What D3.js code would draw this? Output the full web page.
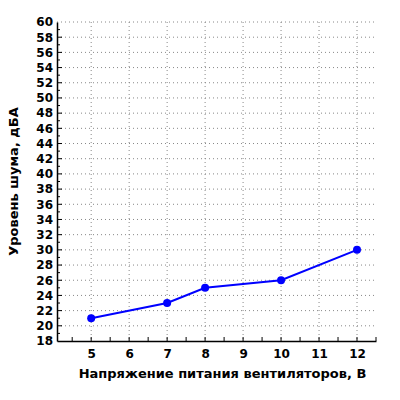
<!DOCTYPE html>
<html><head><meta charset="utf-8">
<script src="https://cdn.jsdelivr.net/npm/d3@7"></script>
<style>body{margin:0;background:#fff}text{font-family:"DejaVu Sans",sans-serif;font-weight:bold}</style>
</head><body>
<svg id="c" width="400" height="400"></svg>
<script>
const voltage = [5, 7, 8, 10, 12]
const noise = [21, 23, 25, 26, 30]
const xTicks = [5, 6, 7, 8, 9, 10, 11, 12]
const yTicks = d3.range(18, 61, 2)

const svg = d3.select('#c')
const m = {l: 57, r: 376, t: 22, b: 341}
const x = d3.scaleLinear().domain([4.1, 12.5]).range([m.l, m.r])
const y = d3.scaleLinear().domain([18, 60]).range([m.b, m.t])

// grid
const g = svg.append('g').attr('stroke', '#888').attr('stroke-dasharray', '1,3')
g.selectAll('.h').data(yTicks.slice(1)).enter().append('line')
  .attr('x1', m.l).attr('x2', m.r).attr('y1', d => y(d)).attr('y2', d => y(d))
g.selectAll('.v').data(xTicks).enter().append('line')
  .attr('x1', d => x(d)).attr('x2', d => x(d)).attr('y1', m.t).attr('y2', m.b)

// axes
const xa = svg.append('g').attr('transform', `translate(0,${m.b})`)
  .call(d3.axisBottom(x).tickValues(xTicks).tickFormat(d3.format('d')).tickSize(0).tickPadding(8))
xa.append('g').selectAll('line').data(d3.range(4.5, 12.6, 0.5)).enter().append('line')
  .attr('x1', d => x(d)).attr('x2', d => x(d)).attr('y1', 0).attr('y2', -4).attr('stroke', '#000')
const ya = svg.append('g').attr('transform', `translate(${m.l},0)`)
  .call(d3.axisLeft(y).tickValues(yTicks).tickSize(0).tickPadding(4))
ya.append('g').selectAll('line').data(d3.range(19, 60, 1)).enter().append('line')
  .attr('y1', d => y(d)).attr('y2', d => y(d)).attr('x1', 0).attr('x2', d => d % 2 ? 3 : 5).attr('stroke', '#000')
svg.selectAll('.domain').attr('stroke', '#000').attr('stroke-width', 1.5)
svg.selectAll('.tick text').attr('font-size', 12).attr('fill', '#000')
  .style('font-family', '"DejaVu Sans",sans-serif').style('font-weight', 'bold')

// series
svg.append('path').datum(voltage.map((v, i) => [v, noise[i]]))
  .attr('fill', 'none').attr('stroke', '#00f').attr('stroke-width', 2)
  .attr('d', d3.line().x(d => x(d[0])).y(d => y(d[1])))
svg.selectAll('.pt').data(voltage).enter().append('circle')
  .attr('cx', d => x(d)).attr('cy', (d, i) => y(noise[i])).attr('r', 4).attr('fill', '#00f')

svg.append('text').attr('x', (m.l + m.r) / 2 + 6).attr('y', 378).attr('text-anchor', 'middle')
  .attr('font-size', 13).text('Напряжение питания вентиляторов, В')
svg.append('text').attr('transform', `translate(18,${(m.t + m.b) / 2}) rotate(-90)`)
  .attr('text-anchor', 'middle').attr('font-size', 13).text('Уровень шума, дБА')
</script>
</body></html>
